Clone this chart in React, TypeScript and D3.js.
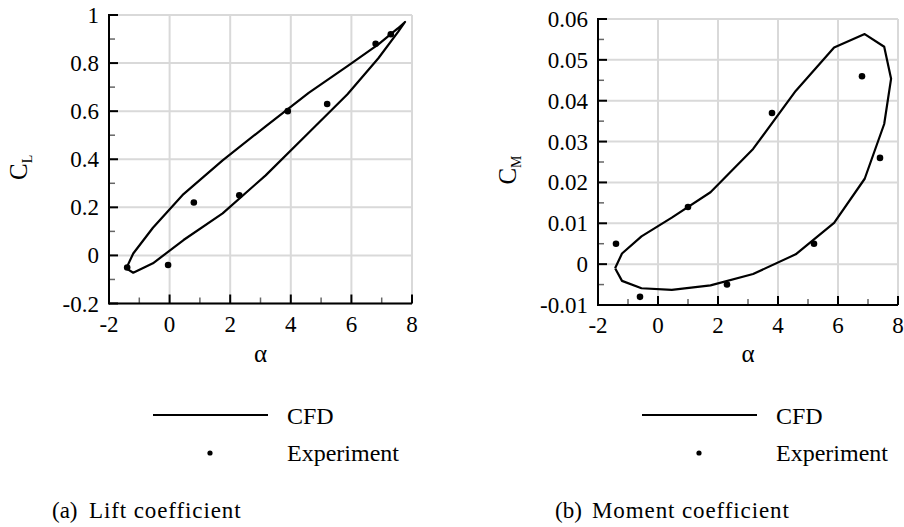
import React, { useEffect, useRef } from 'react';
import * as d3 from 'd3';

// CFD hysteresis loop, angle of attack (deg) going up then back down
const cfdAlpha = [-1.43, -1.2, -0.55, 0.46, 1.75, 3.17, 4.59, 5.87, 6.89, 7.54, 7.77, 7.54, 6.89, 5.87, 4.59, 3.17, 1.75, 0.46, -0.55, -1.2, -1.43];
const cfdLift = [-0.054, 0.008, 0.115, 0.255, 0.395, 0.537, 0.676, 0.787, 0.878, 0.945, 0.971, 0.93, 0.82, 0.67, 0.51, 0.333, 0.175, 0.064, -0.033, -0.072, -0.054];
const cfdMoment = [-0.001, 0.0026, 0.0068, 0.0114, 0.0176, 0.0282, 0.0424, 0.053, 0.0563, 0.0532, 0.0454, 0.0343, 0.0209, 0.0101, 0.0024, -0.0024, -0.0052, -0.0063, -0.0059, -0.0041, -0.001];

// experiment points
const expLiftAlpha = [-1.4, -0.05, 0.8, 2.3, 3.9, 5.2, 6.8, 7.3];
const expLift = [-0.05, -0.04, 0.22, 0.25, 0.6, 0.63, 0.88, 0.92];
const expMomentAlpha = [-1.4, -0.6, 1.0, 2.3, 3.8, 5.2, 6.8, 7.4];
const expMoment = [0.005, -0.008, 0.014, -0.005, 0.037, 0.005, 0.046, 0.026];

// axis ticks
const alphaTicks = [-2, 0, 2, 4, 6, 8];
const liftTicks = [-0.2, 0, 0.2, 0.4, 0.6, 0.8, 1];
const momentTicks = [-0.01, 0, 0.01, 0.02, 0.03, 0.04, 0.05, 0.06];

const legendLabels = ['CFD', 'Experiment'];

const FONT = "'Liberation Serif', Tinos, 'Nimbus Roman', 'DejaVu Serif', serif";

type Panel = {
  left: number; right: number; top: number; bottom: number;
  yTicks: number[]; yVals: number[];
  expA: number[]; expV: number[];
  sub: string; tag: string; caption: string; captionX: number;
};

const panels: Panel[] = [
  { left: 109, right: 412, top: 15, bottom: 303.5, yTicks: liftTicks, yVals: cfdLift,
    expA: expLiftAlpha, expV: expLift, sub: 'L', tag: '(a)', caption: 'Lift coefficient', captionX: 52 },
  { left: 598, right: 898, top: 19, bottom: 305, yTicks: momentTicks, yVals: cfdMoment,
    expA: expMomentAlpha, expV: expMoment, sub: 'M', tag: '(b)', caption: 'Moment coefficient', captionX: 555 },
];

export default function App() {
  const ref = useRef<SVGSVGElement>(null);

  useEffect(() => {
    const svg = d3.select(ref.current);
    svg.selectAll('*').remove();

    panels.forEach(p => {
      const g = svg.append('g').style('font-family', FONT);
      const x = d3.scaleLinear().domain([alphaTicks[0], alphaTicks[alphaTicks.length - 1]]).range([p.left, p.right]);
      const y = d3.scaleLinear().domain([p.yTicks[0], p.yTicks[p.yTicks.length - 1]]).range([p.bottom, p.top]);

      // grid
      g.selectAll('.gx').data(alphaTicks).enter().append('line')
        .attr('x1', d => x(d)).attr('x2', d => x(d))
        .attr('y1', p.top).attr('y2', p.bottom)
        .attr('stroke', '#d9d9d9').attr('stroke-width', 2);
      g.selectAll('.gy').data(p.yTicks).enter().append('line')
        .attr('x1', p.left).attr('x2', p.right)
        .attr('y1', d => y(d)).attr('y2', d => y(d))
        .attr('stroke', '#d9d9d9').attr('stroke-width', 2);

      // minor ticks (midpoints)
      const xMinor = d3.pairs(alphaTicks).map(([a, b]) => (a + b) / 2);
      const yMinor = d3.pairs(p.yTicks).map(([a, b]) => (a + b) / 2);
      g.selectAll('.mx').data(xMinor).enter().append('line')
        .attr('x1', d => x(d)).attr('x2', d => x(d))
        .attr('y1', p.bottom).attr('y2', p.bottom - 6)
        .attr('stroke', '#666').attr('stroke-width', 1.5);
      g.selectAll('.my').data(yMinor).enter().append('line')
        .attr('x1', p.left).attr('x2', p.left + 6)
        .attr('y1', d => y(d)).attr('y2', d => y(d))
        .attr('stroke', '#666').attr('stroke-width', 1.5);

      // major ticks
      g.selectAll('.tx').data(alphaTicks).enter().append('line')
        .attr('x1', d => x(d)).attr('x2', d => x(d))
        .attr('y1', p.bottom).attr('y2', p.bottom - 9)
        .attr('stroke', '#000').attr('stroke-width', 2);
      g.selectAll('.ty').data(p.yTicks).enter().append('line')
        .attr('x1', p.left).attr('x2', p.left + 9)
        .attr('y1', d => y(d)).attr('y2', d => y(d))
        .attr('stroke', '#000').attr('stroke-width', 2);

      // axis lines
      g.append('line').attr('x1', p.left).attr('x2', p.right).attr('y1', p.bottom).attr('y2', p.bottom)
        .attr('stroke', '#000').attr('stroke-width', 2);
      g.append('line').attr('x1', p.left).attr('x2', p.left).attr('y1', p.top - 1).attr('y2', p.bottom + 1)
        .attr('stroke', '#000').attr('stroke-width', 2);

      // tick labels
      g.selectAll('.lx').data(alphaTicks).enter().append('text')
        .attr('x', d => x(d)).attr('y', p.bottom + 28)
        .attr('text-anchor', 'middle')
        .attr('font-size', 23)
        .text(d => String(d));
      g.selectAll('.ly').data(p.yTicks).enter().append('text')
        .attr('x', p.left - 10).attr('y', d => y(d) + 8)
        .attr('text-anchor', 'end')
        .attr('font-size', 23)
        .text(d => String(d));

      // axis titles
      g.append('text')
        .attr('x', (p.left + p.right) / 2).attr('y', 362)
        .attr('text-anchor', 'middle')
        .attr('font-size', 25)
        .text('α');
      const yt = g.append('text')
        .attr('transform', `translate(${p.left - 82},${(p.top + p.bottom) / 2 + 8}) rotate(-90)`)
        .attr('text-anchor', 'middle')
        .attr('font-size', 25);
      yt.append('tspan').text('C');
      yt.append('tspan').attr('dy', 5).attr('font-size', 14).text(p.sub);

      // CFD loop
      const line = d3.line<number>()
        .x((d, i) => x(cfdAlpha[i]))
        .y(d => y(d));
      g.append('path')
        .attr('d', line(p.yVals))
        .attr('fill', 'none')
        .attr('stroke', '#000')
        .attr('stroke-width', 2.2)
        .attr('stroke-linejoin', 'round');

      // experiment dots
      g.selectAll('.dot').data(p.expV).enter().append('circle')
        .attr('cx', (d, i) => x(p.expA[i]))
        .attr('cy', d => y(d))
        .attr('r', 3.3)
        .attr('fill', '#000');

      // legend
      const lx = p.left + 44;
      g.append('line').attr('x1', lx).attr('x2', lx + 115).attr('y1', 415).attr('y2', 415)
        .attr('stroke', '#000').attr('stroke-width', 2.2);
      g.append('circle').attr('cx', lx + 57).attr('cy', 453).attr('r', 2.6).attr('fill', '#000');
      g.selectAll('.leg').data(legendLabels).enter().append('text')
        .attr('x', lx + 134).attr('y', (d, i) => 424 + i * 37)
        .attr('font-size', 24)
        .text(d => d);

      // caption
      g.append('text').attr('x', p.captionX).attr('y', 518)
        .attr('font-size', 23)
        .text(p.tag);
      g.append('text').attr('x', p.captionX + 37).attr('y', 518)
        .attr('font-size', 23).attr('letter-spacing', 0.9)
        .text(p.caption);
    });
  }, []);

  return (
    <svg ref={ref} width={904} height={527}
      style={{ position: 'absolute', left: 0, top: 0, background: '#fff' }} />
  );
}
